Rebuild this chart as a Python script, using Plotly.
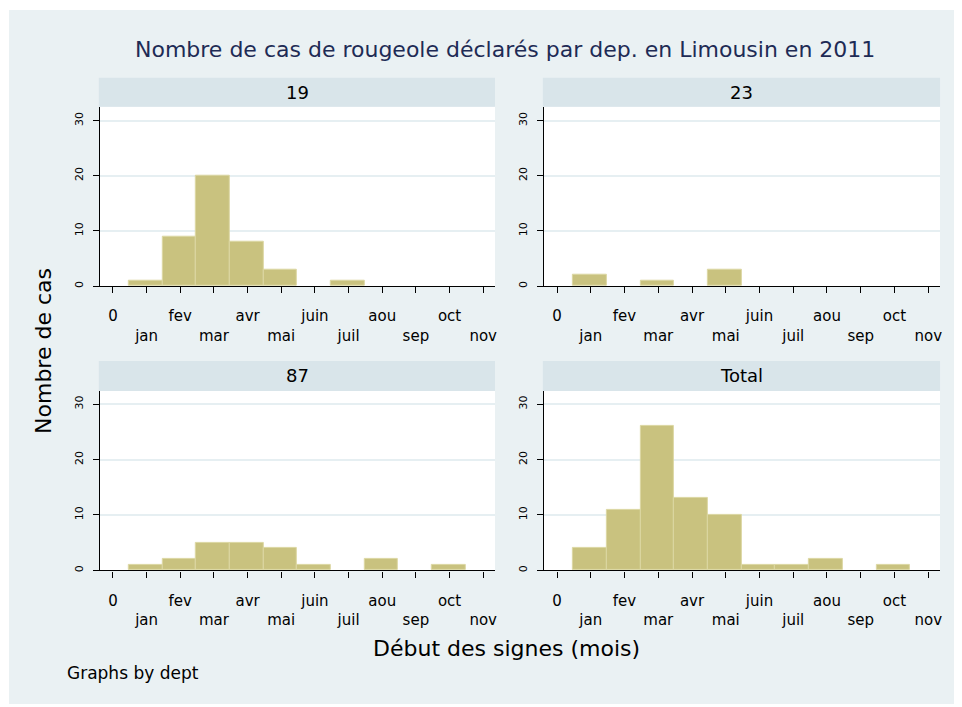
import plotly.graph_objects as go

# ---- data ----
panels = ["19", "23", "87", "Total"]
bin_start = 0.47
bin_width = 1.0
counts_19 = [1, 9, 20, 8, 3, 0, 1, 0, 0, 0]
counts_23 = [2, 0, 1, 0, 3, 0, 0, 0, 0, 0]
counts_87 = [1, 2, 5, 5, 4, 1, 0, 2, 0, 1]
counts_total = [4, 11, 26, 13, 10, 1, 1, 2, 0, 1]
tick_vals = list(range(12))
tick_labels = ["0", "jan", "fev", "mar", "avr", "mai", "juin", "juil", "aou", "sep", "oct", "nov"]
y_ticks = [0, 10, 20, 30]

OFF = 8  # page body margin
W, H = 962 - OFF, 707 - OFF
BG = "#EAF1F3"
STRIP = "#D9E5EA"
BAR = "#C9C27F"
BAR_LINE = "#DCD7A3"
FONT = "DejaVu Sans"

def px(x):
    return (x - OFF) / W

def py(y):
    return 1 - (y - OFF) / H

cols = [(100, 496), (545, 942)]
rows = [((78, 107), (107, 287), 32.5), ((362, 392), (392, 572), 32.4)]

fig = go.Figure()
shapes = []
annotations = []

# outer background
shapes.append(dict(type="rect", xref="paper", yref="paper", x0=px(9), x1=1, y0=py(706), y1=py(10),
                   fillcolor=BG, line=dict(width=0), layer="below"))

data = [counts_19, counts_23, counts_87, counts_total]
ticktext = [t if i % 2 == 0 else "<br>" + t for i, t in enumerate(tick_labels)]

for i, (name, counts) in enumerate(zip(panels, data)):
    r, c = divmod(i, 2)
    (sy0, sy1), (ay0, ay1), ymax = rows[r]
    cx0, cx1 = cols[c]
    n = i + 1
    xa = "x" if n == 1 else f"x{n}"
    ya = "y" if n == 1 else f"y{n}"
    centers = [bin_start + bin_width * (k + 0.5) for k in range(len(counts))]
    vals = [v if v > 0 else None for v in counts]
    fig.add_trace(go.Bar(x=centers, y=vals, width=bin_width, xaxis=xa, yaxis=ya,
                         marker=dict(color=BAR, line=dict(color=BAR_LINE, width=1)),
                         showlegend=False, hoverinfo="x+y"))
    fig.update_layout(**{
        ("xaxis" if n == 1 else f"xaxis{n}"): dict(
            domain=[px(cx0), px(cx1)], anchor=ya, range=[-0.39, 11.35],
            tickvals=tick_vals, ticktext=ticktext, ticks="outside", ticklen=6, tickwidth=1.3,
            tickcolor="#000000", showline=True, linecolor="#000000", linewidth=1.3,
            showgrid=False, zeroline=False, ticklabelstandoff=10,
            tickfont=dict(family=FONT, size=15, color="#000000"), tickangle=0),
        ("yaxis" if n == 1 else f"yaxis{n}"): dict(
            domain=[py(ay1), py(ay0)], anchor=xa, range=[0, ymax],
            tickvals=y_ticks, ticks="outside", ticklen=6, tickwidth=1.3, tickcolor="#000000",
            showline=True, linecolor="#000000", linewidth=1.3,
            showgrid=True, gridcolor="#E6EFF2", gridwidth=1.5, zeroline=False,
            tickangle=-90, ticklabelstandoff=5,
            tickfont=dict(family=FONT, size=11, color="#000000")),
    })
    # plot area white
    shapes.append(dict(type="rect", xref="paper", yref="paper", x0=px(cx0), x1=px(cx1),
                       y0=py(ay1), y1=py(ay0), fillcolor="#FFFFFF", line=dict(width=0), layer="below"))
    # strip
    shapes.append(dict(type="rect", xref="paper", yref="paper", x0=px(cx0 - 1), x1=px(cx1),
                       y0=py(sy1), y1=py(sy0), fillcolor=STRIP, line=dict(width=0), layer="below"))
    annotations.append(dict(text=name, xref="paper", yref="paper", x=px((cx0 + cx1) / 2),
                            y=py((sy0 + sy1) / 2), showarrow=False, xanchor="center", yanchor="middle",
                            font=dict(family=FONT, size=18, color="#000000")))

annotations += [
    dict(text="Nombre de cas de rougeole déclarés par dep. en Limousin en 2011", xref="paper", yref="paper",
         x=px(506), y=py(50), showarrow=False, xanchor="center", yanchor="middle",
         font=dict(family=FONT, size=22, color="#1E2B55")),
    dict(text="Nombre de cas", xref="paper", yref="paper", x=px(43), y=py(352), textangle=-90,
         showarrow=False, xanchor="center", yanchor="middle",
         font=dict(family=FONT, size=22, color="#000000")),
    dict(text="Début des signes (mois)", xref="paper", yref="paper", x=px(508), y=py(650),
         showarrow=False, xanchor="center", yanchor="middle",
         font=dict(family=FONT, size=22, color="#000000")),
    dict(text="Graphs by dept", xref="paper", yref="paper", x=px(65), y=py(675),
         showarrow=False, xanchor="left", yanchor="middle",
         font=dict(family=FONT, size=17, color="#000000")),
]

fig.update_layout(width=W, height=H, margin=dict(l=0, r=0, t=0, b=0),
                  paper_bgcolor="#FFFFFF", plot_bgcolor="rgba(0,0,0,0)",
                  shapes=shapes, annotations=annotations, bargap=0)
fig.write_html("out.html")
